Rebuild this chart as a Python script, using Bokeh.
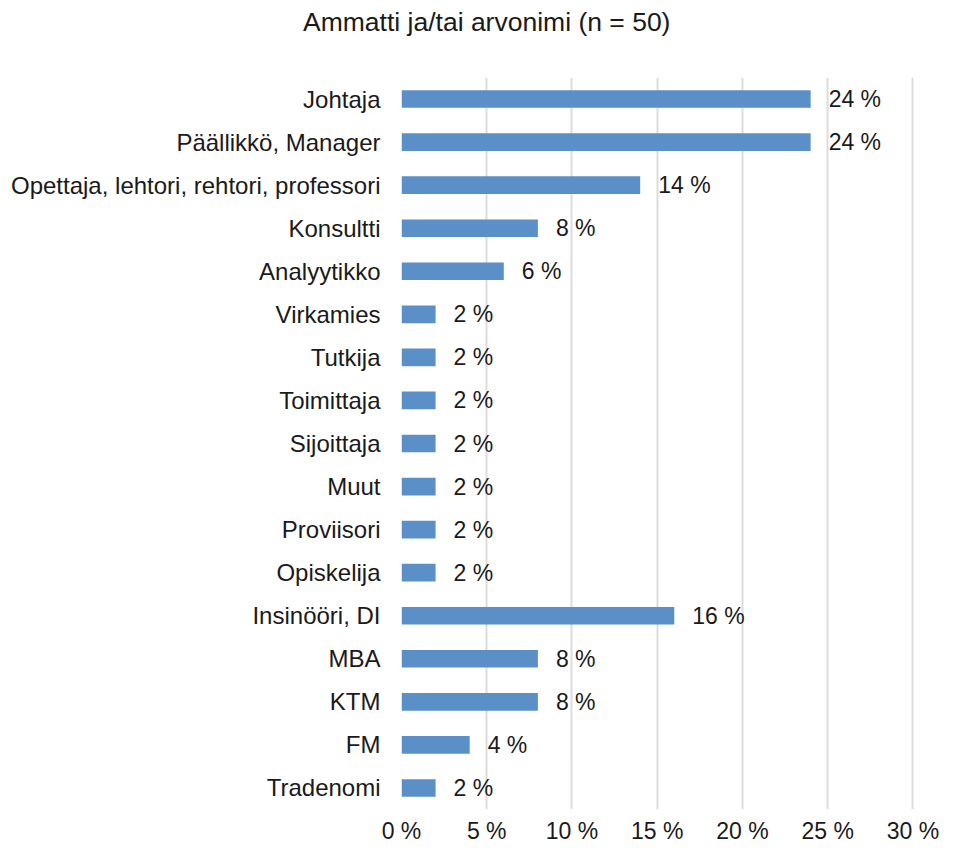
from bokeh.plotting import figure
from bokeh.models import ColumnDataSource, Range1d, FactorRange, FixedTicker, LabelSet, Div
from bokeh.layouts import column
from bokeh.core.properties import value
from bokeh.embed import file_html
from bokeh.resources import INLINE

categories = ["Johtaja", "Päällikkö, Manager", "Opettaja, lehtori, rehtori, professori",
              "Konsultti", "Analyytikko", "Virkamies", "Tutkija", "Toimittaja",
              "Sijoittaja", "Muut", "Proviisori", "Opiskelija", "Insinööri, DI",
              "MBA", "KTM", "FM", "Tradenomi"]
values = [24, 24, 14, 8, 6, 2, 2, 2, 2, 2, 2, 2, 16, 8, 8, 4, 2]
x_ticks = [0, 5, 10, 15, 20, 25, 30]
x_tick_labels = {t: f"{t} %" for t in x_ticks}
title_text = "Ammatti ja/tai arvonimi (n = 50)"

FONT = "Liberation Sans"
src = ColumnDataSource(dict(cat=categories, val=values,
                            lab=[f"{v} %" for v in values]))

title = Div(text=title_text, width=939, height=50, margin=(0, 0, 0, 0),
            styles={"font-family": FONT, "font-size": "26.5px", "color": "#1a1a1a",
                    "padding-left": "303px", "padding-top": "4px",
                    "white-space": "nowrap", "background": "white"})

p = figure(width=939, height=796, output_backend="svg", toolbar_location=None,
           y_range=FactorRange(*reversed(categories), range_padding=0),
           x_range=Range1d(0, 30.15),
           min_border_left=401, min_border_right=24, min_border_top=27,
           min_border_bottom=34, margin=(0, 0, 0, 0))
p.outline_line_color = None
p.background_fill_color = "white"
p.border_fill_color = "white"

p.hbar(y="cat", right="val", height=0.41, source=src, color="#5B8FC7", line_color=None)

labels = LabelSet(x="val", y="cat", text="lab", source=src, x_offset=18,
                  text_baseline="middle", text_font=value(FONT), text_font_size="23px",
                  text_color="#1a1a1a")
p.add_layout(labels)

p.xaxis.ticker = FixedTicker(ticks=x_ticks)
p.xaxis.major_label_overrides = x_tick_labels
p.xaxis.axis_line_color = None
p.xaxis.major_tick_line_color = None
p.xaxis.minor_tick_line_color = None
p.xaxis.major_label_standoff = 2
p.xaxis.major_label_text_font = FONT
p.xaxis.major_label_text_font_size = "23px"
p.xaxis.major_label_text_color = "#1a1a1a"

p.yaxis.axis_line_color = None
p.yaxis.major_tick_line_color = None
p.yaxis.major_label_standoff = 15
p.yaxis.major_label_text_font = FONT
p.yaxis.major_label_text_font_size = "24px"
p.yaxis.major_label_text_color = "#1a1a1a"

p.ygrid.grid_line_color = None
p.xgrid.grid_line_color = "#dcdcdc"
p.xgrid.grid_line_width = 2

layout = column(title, p, spacing=0)

open("out.html", "w").write(file_html(layout, INLINE))
